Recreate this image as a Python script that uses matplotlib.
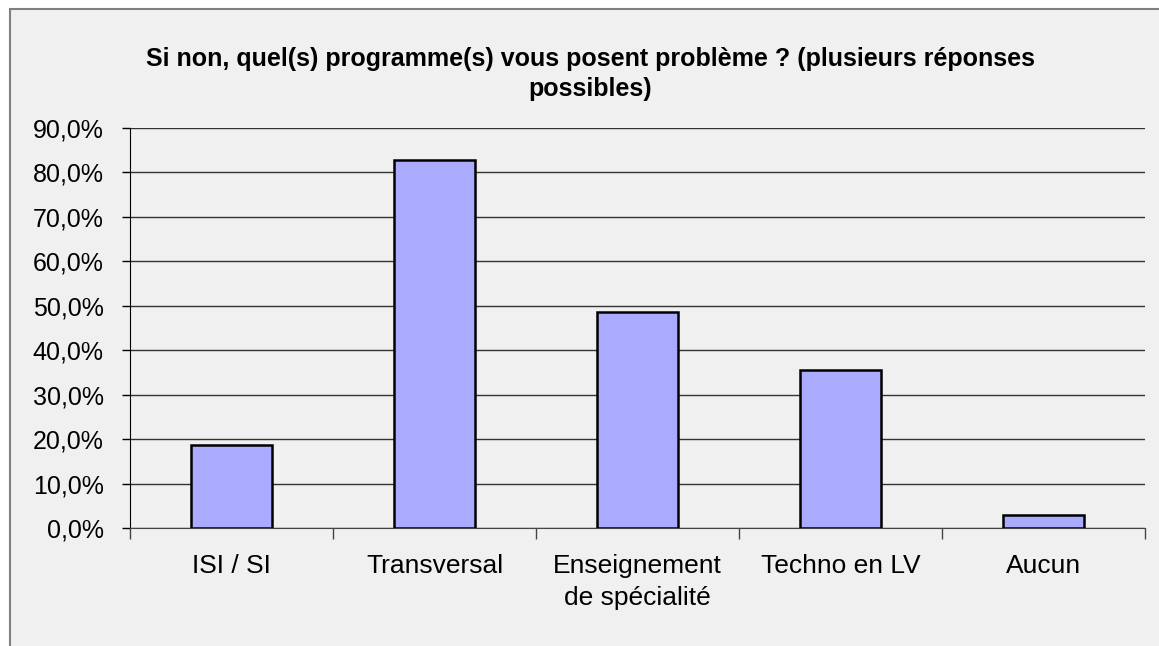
import matplotlib.pyplot as plt
from matplotlib.patches import Rectangle
from matplotlib.ticker import FuncFormatter

# values, in percent
categories = ["ISI / SI", "Transversal", "Enseignement\nde spécialité", "Techno en LV", "Aucun"]
values = [18.6, 82.8, 48.6, 35.5, 3.0]
yticks = [0, 10, 20, 30, 40, 50, 60, 70, 80, 90]
title = "Si non, quel(s) programme(s) vous posent problème ? (plusieurs réponses\npossibles)"

W, H = 1159, 646
plt.rcParams['font.family'] = ['Liberation Sans', 'DejaVu Sans']

fig = plt.figure(figsize=(W / 100, H / 100), dpi=100)
fig.patch.set_facecolor('white')

# grey chart area with its border (top and left visible)
bg = Rectangle((9.5 / W, -0.01), 1.1, 1 - 8.5 / H + 0.01, transform=fig.transFigure,
               facecolor='#F0F0F0', edgecolor='#808080', lw=1.5, zorder=-10)
fig.patches.append(bg)

ax = fig.add_axes([130 / W, 1 - 528 / H, (1145 - 130) / W, 400 / H])
ax.set_facecolor('none')
ax.set_zorder(5)

x = range(len(categories))
ax.bar(x, values, width=0.4, color='#AAAAFF', edgecolor='black', lw=1.8, zorder=3)

ax.set_xlim(-0.5, len(categories) - 0.5)
ax.set_ylim(0, 90)
ax.set_yticks(yticks)
ax.yaxis.set_major_formatter(FuncFormatter(lambda v, p: f"{v:.1f}%".replace('.', ',')))
ax.grid(axis='y', color='#333333', lw=1, zorder=1)

ax.set_xticks([i + 0.5 for i in range(-1, len(categories))])
ax.set_xticklabels([])
ax.set_xticks(list(x), minor=True)
ax.set_xticklabels(categories, minor=True, fontsize=19, linespacing=1.42)
ax.tick_params(axis='x', which='minor', length=0, pad=19)
ax.tick_params(axis='x', which='major', length=8, width=1, color='#444444', direction='out')
ax.tick_params(axis='y', length=6, width=1, labelsize=18, pad=13)

for s in ['top', 'right']:
    ax.spines[s].set_visible(False)
ax.spines['left'].set_color('black')
ax.spines['bottom'].set_color('#444444')

fig.text(590 / W, 1 - 74 / H, title, ha='center', va='center', fontsize=18,
         fontweight='bold', linespacing=1.35)

fig.savefig('out.png', dpi=100)
